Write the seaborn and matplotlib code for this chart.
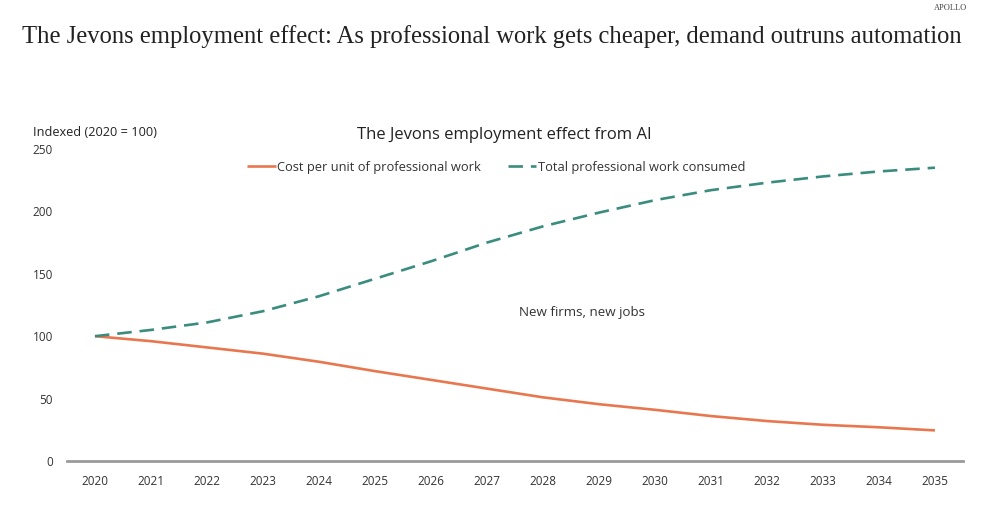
import pandas as pd
import numpy as np
import matplotlib
matplotlib.use("Agg")
import matplotlib.pyplot as plt
import seaborn as sns

years = list(range(2020, 2036))
cost_per_unit = [100, 96, 91, 86, 79.5, 72, 65, 58, 51, 45.5, 41, 36, 32, 29, 27, 24.5]
total_consumed = [100, 105, 111, 120, 132, 146, 160, 175, 188, 199, 209, 217, 223, 228, 232, 235]
series_names = ["Cost per unit of professional work", "Total professional work consumed"]
series_colors = ["#E8774F", "#3A8C7E"]

df = pd.DataFrame({
    "year": years * 2,
    "value": cost_per_unit + total_consumed,
    "series": [series_names[0]] * len(years) + [series_names[1]] * len(years),
})

sns.set_style("white")
plt.rcParams["font.family"] = ["Open Sans", "DejaVu Sans"]

fig = plt.figure(figsize=(9.95, 5.2), dpi=100)
ax = fig.add_axes([0.0673, 0.1135, 0.9005, 0.6])

sns.lineplot(data=df, x="year", y="value", hue="series", style="series",
             palette=series_colors, dashes=[(1, 0), (5.5, 3)], linewidth=1.9,
             ax=ax)

ax.set_xlim(2019.5, 2035.5)
ax.set_ylim(0, 250)
ax.set_xticks(years)
ax.set_xticklabels([str(y) for y in years])
ax.set_yticks([0, 50, 100, 150, 200, 250])
ax.set_xlabel("")
ax.set_ylabel("")
ax.tick_params(axis="both", length=0, labelsize=8.5, labelcolor="#333333")
ax.tick_params(axis="x", pad=10)
ax.tick_params(axis="y", pad=10)

for side in ["top", "right", "left"]:
    ax.spines[side].set_visible(False)
ax.spines["bottom"].set_color("#9a9a9a")
ax.spines["bottom"].set_linewidth(2)

leg = ax.legend(loc="upper center", bbox_to_anchor=(0.479, 1.0), ncol=2, frameon=False,
                fontsize=9.3, handlelength=2.2, handletextpad=0.1, columnspacing=2.1)
for t in leg.get_texts():
    t.set_color("#333333")

ax.text(2028.7, 119, "New firms, new jobs", ha="center", va="center",
        fontsize=9.6, color="#333333")

fig.text(0.507, 0.74, "The Jevons employment effect from AI", ha="center", va="center",
         fontsize=12, color="#222222")
fig.text(0.033, 0.746, "Indexed (2020 = 100)", ha="left", va="center",
         fontsize=9.2, color="#222222")

fig.text(0.022, 0.93, "The Jevons employment effect: As professional work gets cheaper, demand outruns automation",
         ha="left", va="center", fontsize=17.7, color="#222222",
         family=["Liberation Serif", "DejaVu Serif"])
fig.text(0.972, 0.985, "APOLLO", ha="right", va="center", fontsize=6,
         color="#444444", family=["Liberation Serif", "DejaVu Serif"])

fig.savefig("out.png", dpi=100)
